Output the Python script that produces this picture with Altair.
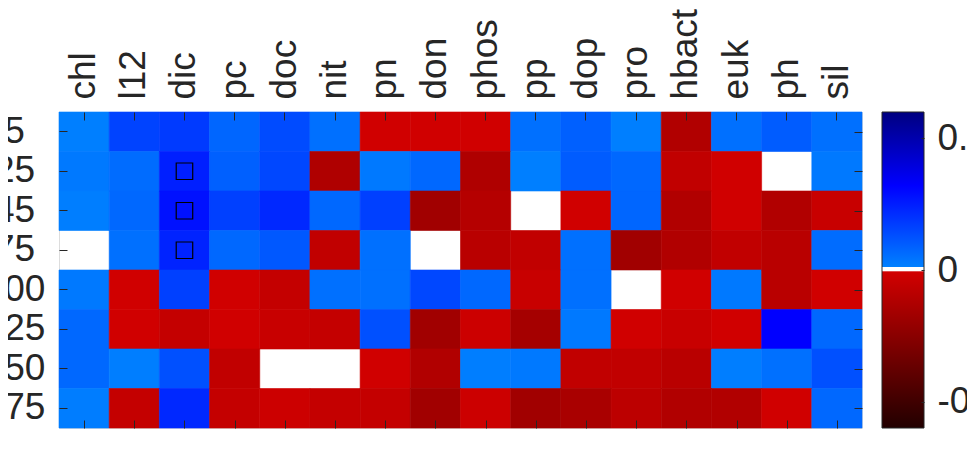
import altair as alt
import pandas as pd

# ---------------- data ----------------
COLS = ["chl", "l12", "dic", "pc", "doc", "nit", "pn", "don", "phos",
        "pp", "dop", "pro", "hbact", "euk", "ph", "sil"]
DEPTHS = ["5", "25", "45", "75", "100", "125", "150", "175"]

ROW_5 = [0.015, 0.16, 0.18, 0.075, 0.14, 0.05, -0.013, -0.013, -0.013, 0.05, 0.09, 0.015, -0.118, 0.05, 0.10, 0.05]
ROW_25 = [0.03, 0.06, 0.245, 0.09, 0.15, -0.125, 0.03, 0.07, -0.125, 0.015, 0.10, 0.07, -0.065, -0.013, None, 0.03]
ROW_45 = [0.018, 0.07, 0.28, 0.166, 0.224, 0.07, 0.166, -0.171, -0.105, None, -0.013, 0.075, -0.118, -0.013, -0.118, -0.039]
ROW_75 = [None, 0.05, 0.235, 0.07, 0.108, -0.065, 0.05, None, -0.092, -0.065, 0.05, -0.171, -0.118, -0.065, -0.092, 0.06]
ROW_100 = [0.03, -0.013, 0.166, -0.013, -0.052, 0.05, 0.05, 0.15, 0.07, -0.039, 0.05, None, -0.013, 0.03, -0.092, -0.013]
ROW_125 = [0.07, -0.013, -0.052, -0.013, -0.039, -0.052, 0.128, -0.171, -0.026, -0.158, 0.03, -0.013, -0.039, -0.013, 0.32, 0.07]
ROW_150 = [0.07, 0.018, 0.128, -0.065, None, None, -0.013, -0.118, 0.018, 0.03, -0.065, -0.065, -0.092, 0.018, 0.05, 0.128]
ROW_175 = [0.02, -0.052, 0.224, -0.052, -0.026, -0.052, -0.052, -0.171, -0.026, -0.171, -0.145, -0.079, -0.118, -0.118, -0.013, 0.07]
ROWS = [ROW_5, ROW_25, ROW_45, ROW_75, ROW_100, ROW_125, ROW_150, ROW_175]

MARKED_COL = ["dic", "dic", "dic"]
MARKED_DEPTH = ["25", "45", "75"]

CMAP_POS = [-0.6, -0.006, -0.005, 0.012, 0.0125, 0.32, 0.6]
CMAP_COL = ["#220000", "#d20000", "#ffffff", "#ffffff", "#0080ff", "#0000ff", "#000080"]
CBAR_TICKS = [-0.5, 0, 0.5]
CBAR_LABELS = ["-0.5", "0", "0.5"]

# ---------------- tables ----------------
records = []
for d, row in zip(DEPTHS, ROWS):
    for c, v in zip(COLS, row):
        if v is not None:
            records.append({"col": c, "depth": d, "value": v})
df = pd.DataFrame(records)
marks_df = pd.DataFrame({"col": MARKED_COL, "depth": MARKED_DEPTH})
cbar_df = pd.DataFrame({"lo": [CMAP_POS[0]], "hi": [CMAP_POS[-1]]})

# ---------------- style ----------------
PLOT_W, PLOT_H = 803, 316
TXT = "#262626"
FONT = "Liberation Sans"
FS = 37
TICK = 8
CB_GAP, CB_W = 20, 42

common_axis = dict(domain=False, ticks=True, tickSize=TICK, tickColor=TXT, tickWidth=1,
                   offset=-TICK, title=None, grid=False, zindex=1,
                   labelFont=FONT, labelFontSize=FS, labelColor=TXT,
                   labelOverlap=False, labelBound=False, labelFlush=False)

color_scale = alt.Scale(type="linear", domain=CMAP_POS, range=CMAP_COL,
                        interpolate="rgb", clamp=True)

heat = alt.Chart(df).mark_rect(strokeWidth=0.6).encode(
    x=alt.X("col:N", sort=COLS,
            scale=alt.Scale(domain=COLS, paddingInner=0, paddingOuter=0),
            axis=alt.Axis(orient="top", labelAngle=270, labelAlign="left",
                          labelBaseline="middle", labelPadding=13, **common_axis)),
    y=alt.Y("depth:N", sort=DEPTHS,
            scale=alt.Scale(domain=DEPTHS, paddingInner=0, paddingOuter=0),
            axis=alt.Axis(orient="left", labelAlign="center", labelBaseline="middle",
                          labelPadding=45, **common_axis)),
    color=alt.Color("value:Q", scale=color_scale, legend=None),
    stroke=alt.Stroke("value:Q", scale=color_scale, legend=None),
)

squares = alt.Chart(marks_df).mark_point(shape="square", size=272, filled=False,
                                         stroke="#000000", strokeWidth=1.2, opacity=1).encode(
    x=alt.X("col:N", sort=COLS, scale=alt.Scale(domain=COLS, padding=0.5),
            axis=alt.Axis(orient="bottom", labels=False, **common_axis)),
    y=alt.Y("depth:N", sort=DEPTHS, scale=alt.Scale(domain=DEPTHS, padding=0.5),
            axis=alt.Axis(orient="right", labels=False, **common_axis)),
)

label_expr = "'" + CBAR_LABELS[-1] + "'"
for v, l in zip(CBAR_TICKS[:-1][::-1], CBAR_LABELS[:-1][::-1]):
    label_expr = f"datum.value == {v} ? '{l}' : " + label_expr

lo, hi = CMAP_POS[0], CMAP_POS[-1]
gradient = alt.LinearGradient(
    gradient="linear",
    stops=[alt.GradientStop(offset=(p - lo) / (hi - lo), color=c) for p, c in zip(CMAP_POS, CMAP_COL)],
    x1=0, x2=0, y1=1, y2=0,
)

cbar = alt.Chart(cbar_df).mark_rect(fill=gradient, stroke=TXT, strokeWidth=1).encode(
    x=alt.value(PLOT_W + CB_GAP),
    x2=alt.value(PLOT_W + CB_GAP + CB_W),
    y=alt.Y("lo:Q", scale=alt.Scale(domain=[lo, hi], nice=False, zero=False),
            axis=alt.Axis(orient="right", values=CBAR_TICKS, labelExpr=label_expr,
                          domain=False, ticks=True, tickSize=3, tickColor=TXT,
                          offset=CB_GAP + CB_W - 3, labelPadding=13, labelAlign="left",
                          labelBaseline="middle", title=None, grid=False, zindex=1,
                          labelFont=FONT, labelFontSize=FS, labelColor=TXT,
                          labelOverlap=False, labelBound=False, labelFlush=False)),
    y2="hi:Q",
)

chart = alt.layer(heat, squares, cbar).resolve_scale(
    x="independent", y="independent"
).resolve_axis(
    x="independent", y="independent"
).properties(
    width=PLOT_W, height=PLOT_H,
    autosize=alt.AutoSizeParams(type="none"),
    padding={"left": 51, "top": 104, "right": 105, "bottom": 4},
).configure_view(stroke=TXT, strokeWidth=1).configure(font=FONT)

chart.save("out.html", embed_options={"renderer": "svg", "actions": False})
